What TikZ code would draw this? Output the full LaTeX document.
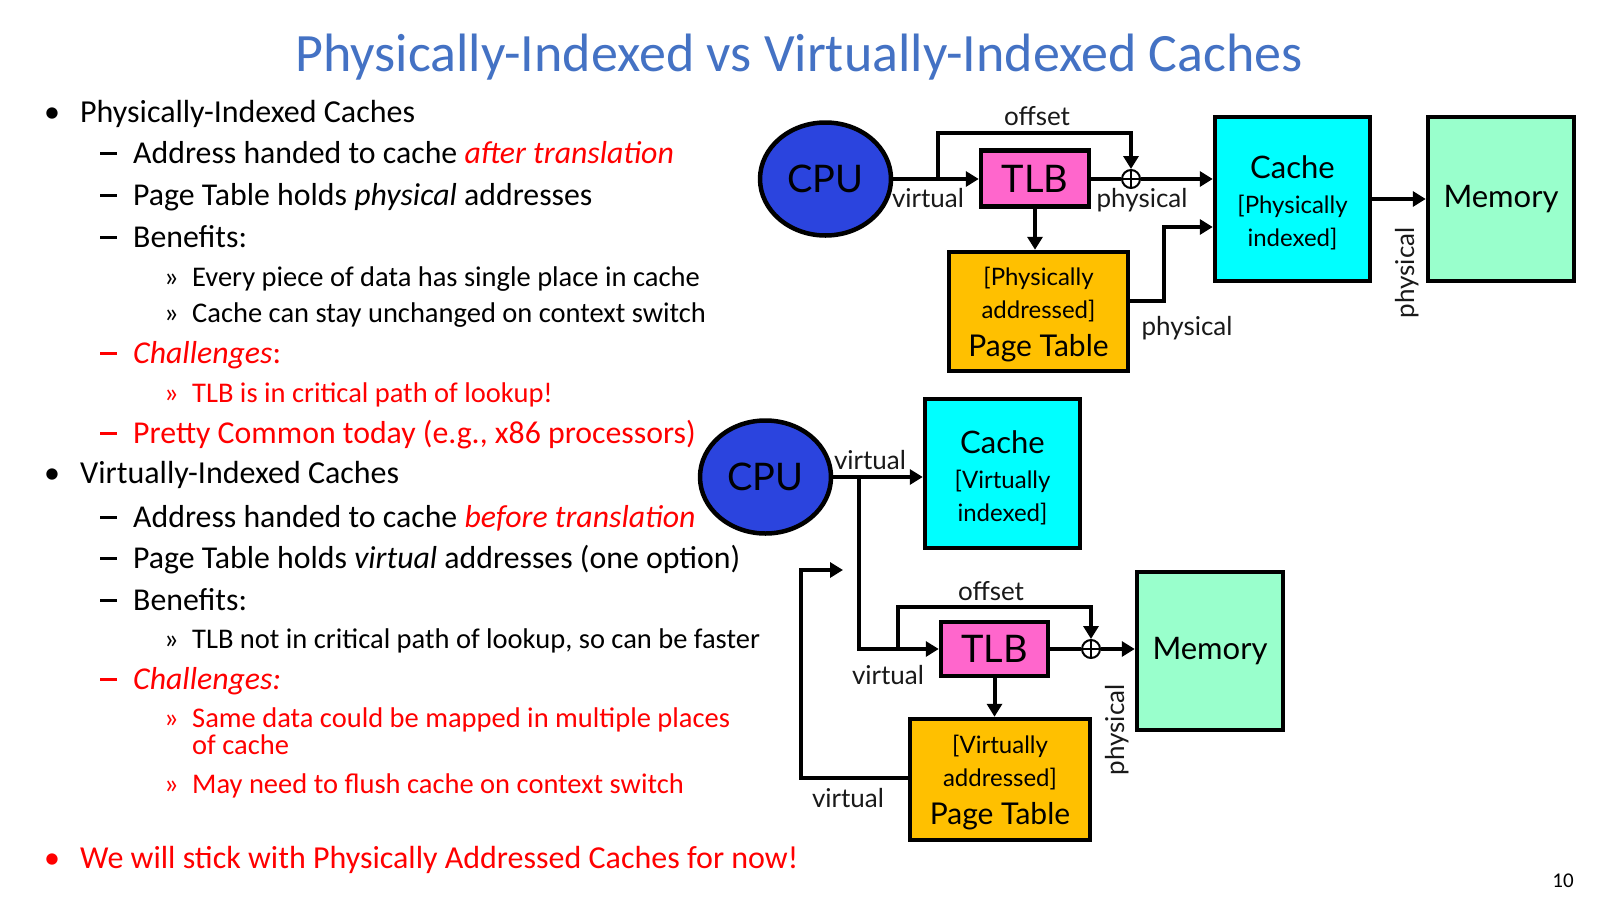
\documentclass[tikz,border=0pt]{standalone}
\usepackage{fontspec}
\setmainfont{Carlito}
\newfontfamily\diagfont{Lato}
\usetikzlibrary{arrows.meta,shapes.geometric}
\definecolor{titleblue}{RGB}{68,114,196}
\definecolor{cpublue}{RGB}{43,68,222}
\definecolor{tlbpink}{RGB}{255,102,204}
\definecolor{ptgold}{RGB}{255,192,0}
\definecolor{cachecyan}{RGB}{0,255,255}
\definecolor{memgreen}{RGB}{153,255,204}
\definecolor{slidered}{RGB}{255,0,0}
\definecolor{labgray}{RGB}{25,25,25}
\newcommand{\dashmark}{\rule[8.5pt]{17pt}{2.2pt}}
\tikzset{
  box/.style={draw=black, line width=4.5pt, inner sep=0pt, align=center, font=\diagfont},
  cpu/.style={ellipse, draw=black, line width=4.5pt, fill=cpublue, inner sep=0pt,
    minimum width=131, minimum height=113, font=\diagfont\fontsize{38}{38}\selectfont},
  conn/.style={line width=4pt, -{Triangle[length=13pt,width=15pt]}},
  plain/.style={line width=4pt},
  plusnode/.style={circle, draw=black, line width=2pt, fill=white, minimum size=18pt, inner sep=0pt,
    path picture={\draw[line width=2pt] (path picture bounding box.north) -- (path picture bounding box.south)
      (path picture bounding box.west) -- (path picture bounding box.east);}},
  lab/.style={font=\diagfont\fontsize{26}{26}\selectfont, text=labgray, inner sep=0pt},
  lone/.style={anchor=base west, inner sep=0pt, font=\fontsize{32}{32}\selectfont},
  ltwo/.style={anchor=base west, inner sep=0pt, font=\fontsize{31.8}{31.8}\selectfont},
  lthree/.style={anchor=base west, inner sep=0pt, font=\fontsize{28.5}{28.5}\selectfont},
}
\begin{document}
\begin{tikzpicture}[x=1pt,y=-1pt]
\useasboundingbox (0,0) rectangle (1600,900);
\fill[white] (0,0) rectangle (1600,900);

% title
\node[anchor=base, inner sep=0pt, text=titleblue, font=\fontsize{54}{54}\selectfont] (title) at (799,71)
  {Physically-Indexed vs Virtually-Indexed Caches};

% left text
\node[lone] (b1) at (44,122) {•};
\node[lone] (t1) at (80,122) {Physically-Indexed Caches};
\node[ltwo] (d1) at (100,163) {\dashmark};
\node[ltwo] (t2) at (133,163) {Address handed to cache \textcolor{slidered}{\itshape after translation}};
\node[ltwo] (d2) at (100,205) {\dashmark};
\node[ltwo] (t3) at (133,205) {Page Table holds \textit{physical} addresses};
\node[ltwo] (d3) at (100,247) {\dashmark};
\node[ltwo] (t4) at (133,247) {Benefits:};
\node[lthree] (g1) at (164,286) {»};
\node[lthree] (t5) at (192,286) {Every piece of data has single place in cache};
\node[lthree] (g2) at (164,322) {»};
\node[lthree] (t6) at (192,322) {Cache can stay unchanged on context switch};
\node[ltwo, text=slidered] (d4) at (100,363) {\dashmark};
\node[ltwo, text=slidered] (t7) at (133,363) {\textit{Challenges}:};
\node[lthree, text=slidered] (g3) at (164,402) {»};
\node[lthree, text=slidered] (t8) at (192,402) {TLB is in critical path of lookup!};
\node[ltwo, text=slidered] (d5) at (100,443) {\dashmark};
\node[ltwo, text=slidered] (t9) at (133,443) {Pretty Common today (e.g., x86 processors)};
\node[lone] (b2) at (44,483) {•};
\node[lone] (t10) at (80,483) {Virtually-Indexed Caches};
\node[ltwo] (d6) at (100,527) {\dashmark};
\node[ltwo] (t11) at (133,527) {Address handed to cache \textcolor{slidered}{\itshape before translation}};
\node[ltwo] (d7) at (100,568) {\dashmark};
\node[ltwo] (t12) at (133,568) {Page Table holds \textit{virtual} addresses (one option)};
\node[ltwo] (d8) at (100,610) {\dashmark};
\node[ltwo] (t13) at (133,610) {Benefits:};
\node[lthree] (g4) at (164,648) {»};
\node[lthree] (t14) at (192,648) {TLB not in critical path of lookup, so can be faster};
\node[ltwo, text=slidered] (d9) at (100,689) {\dashmark};
\node[ltwo, text=slidered] (t15) at (133,689) {\textit{Challenges:}};
\node[lthree, text=slidered] (g5) at (164,727) {»};
\node[lthree, text=slidered] (t16) at (192,727) {Same data could be mapped in multiple places};
\node[lthree, text=slidered] (t16b) at (192,754) {of cache};
\node[lthree, text=slidered] (g6) at (164,793) {»};
\node[lthree, text=slidered] (t17) at (192,793) {May need to flush cache on context switch};
\node[lone, text=slidered] (b3) at (44,868) {•};
\node[lone, text=slidered] (t18) at (80,868) {We will stick with Physically Addressed Caches for now!};
\node[anchor=base, inner sep=0pt, font=\fontsize{21}{21}\selectfont] (pg) at (1563,887) {10};

% ===== top diagram =====
\node[cpu] (CPU1) at (825.5,179) {CPU};
\node[box, fill=tlbpink, minimum width=108, minimum height=56, font=\diagfont\fontsize{38}{38}\selectfont] (TLB1) at (1035,178.5) {TLB};
\node[box, fill=ptgold, minimum width=179, minimum height=119, font=\diagfont\fontsize{24}{33}\selectfont] (PT1) at (1038.5,311.5)
  {\rule{0pt}{25pt}{[}Physically\\ addressed{]}\\[5pt] {\fontsize{30}{30}\selectfont Page Table}};
\node[box, fill=cachecyan, minimum width=155, minimum height=164, font=\diagfont\fontsize{24}{33}\selectfont] (Cache1) at (1292.5,199)
  {\rule{0pt}{30pt}{\fontsize{31}{31}\selectfont Cache}\\[2pt] {[}Physically\\ indexed{]}};
\node[box, fill=memgreen, minimum width=146, minimum height=164, font=\diagfont\fontsize{31}{31}\selectfont] (Mem1) at (1501,199) {Memory};
\node[plusnode] (plus1) at (1131,179) {};
\coordinate (o1) at (938,179);

\draw[conn] (CPU1.east) -- (CPU1.east -| TLB1.west);
\draw[conn] (o1) -- ++(0,-46) -| (plus1.north);
\draw[plain] (TLB1.east |- plus1) -- (plus1.west);
\draw[conn] (plus1.east) -- (plus1.east -| Cache1.west);
\draw[conn] (TLB1.south) -- (TLB1.south |- PT1.north);
\draw[conn] ([yshift=10.5pt]PT1.east) -- ++(34,0) |- ([yshift=-28pt]Cache1.west);
\draw[conn] (Cache1.east) -- (Mem1.west);

\node[lab] (lo1) at (1037,116) {offset};
\node[lab] (lv1) at (928,198) {virtual};
\node[lab] (lp1) at (1142,200) {physical};
\node[lab] (lp2) at (1187,328) {physical};
\node[lab, rotate=90] (lp3) at (1407,273) {physical};

% ===== bottom diagram =====
\node[cpu] (CPU2) at (765.5,477) {CPU};
\node[box, fill=cachecyan, minimum width=155, minimum height=149, font=\diagfont\fontsize{24}{33}\selectfont] (Cache2) at (1002.5,473.5)
  {\rule{0pt}{31pt}{\fontsize{31}{31}\selectfont Cache}\\[2pt] {[}Virtually\\ indexed{]}};
\node[box, fill=tlbpink, minimum width=107, minimum height=54, font=\diagfont\fontsize{38}{38}\selectfont] (TLB2) at (994.5,649) {TLB};
\node[box, fill=ptgold, minimum width=180, minimum height=121, font=\diagfont\fontsize{24}{33}\selectfont] (PT2) at (1000,779.5)
  {\rule{0pt}{25pt}{[}Virtually\\ addressed{]}\\[5pt] {\fontsize{30}{30}\selectfont Page Table}};
\node[box, fill=memgreen, minimum width=146, minimum height=158, font=\diagfont\fontsize{31}{31}\selectfont] (Mem2) at (1210,651) {Memory};
\node[plusnode] (plus2) at (1091,649) {};
\coordinate (br2) at (859,477);
\coordinate (o2) at (898,649);
\coordinate (fb) at (843,570);

\draw[conn] (CPU2.east) -- (CPU2.east -| Cache2.west);
\draw[conn] (br2) |- (TLB2.west);
\draw[conn] (o2) -- ++(0,-42) -| (plus2.north);
\draw[plain] (TLB2.east) -- (plus2.west);
\draw[conn] (plus2.east) -- (plus2.east -| Mem2.west);
\draw[conn] (TLB2.south) -- (TLB2.south |- PT2.north);
\draw[conn] ([yshift=1.5pt]PT2.west) -- ++(-107,0) |- (fb);

\node[lab] (lv2) at (870,460) {virtual};
\node[lab] (lo2) at (991,591) {offset};
\node[lab] (lv3) at (888,675) {virtual};
\node[lab] (lv4) at (848,798) {virtual};
\node[lab, rotate=90] (lp4) at (1117,730) {physical};
\end{tikzpicture}
\end{document}
